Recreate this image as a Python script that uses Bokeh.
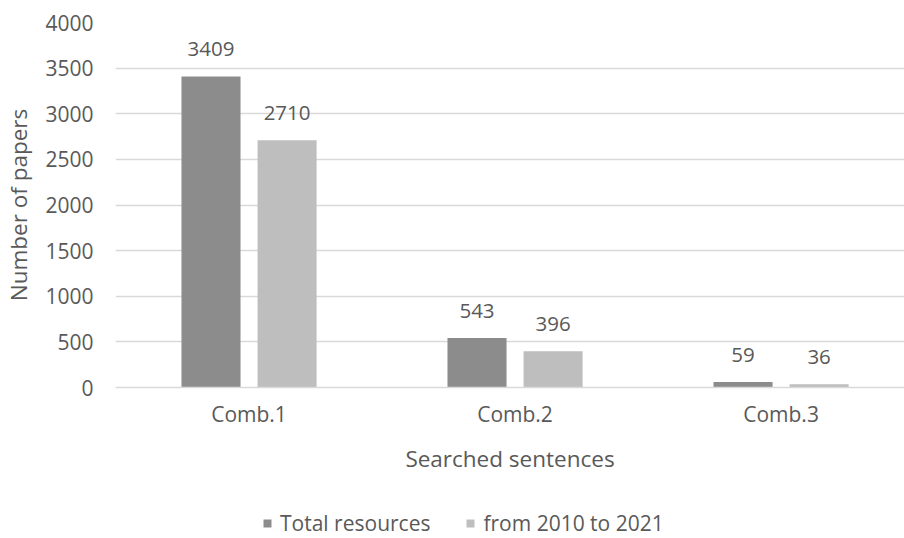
import numpy as np
from bokeh.plotting import figure
from bokeh.layouts import column
from bokeh.models import ColumnDataSource, Range1d, FixedTicker, Legend, LegendItem
from bokeh.transform import dodge
from bokeh.embed import file_html
from bokeh.resources import INLINE
from bokeh.core.properties import value

categories = ["Comb.1", "Comb.2", "Comb.3"]
total_resources = [3409, 543, 59]
from_2010_to_2021 = [2710, 396, 36]
y_ticks = [0, 500, 1000, 1500, 2000, 2500, 3000, 3500, 4000]
series_names = ["Total resources", "from 2010 to 2021"]
series_colors = ["#8c8c8c", "#bebebe"]

FONT = "Open Sans"
TXT = "#595959"

x_pos = list(range(len(categories)))
src = ColumnDataSource(dict(
    x=x_pos,
    total=total_resources,
    recent=from_2010_to_2021,
    total_lbl=[str(v) for v in total_resources],
    recent_lbl=[str(v) for v in from_2010_to_2021],
))

p = figure(width=904, height=490, output_backend="svg", toolbar_location=None,
           x_range=Range1d(-0.502, 2.464), y_range=Range1d(0, 4000),
           min_border_top=22, min_border_right=0, min_border_left=115,
           min_border_bottom=103)
p.outline_line_color = None
p.background_fill_color = "white"
p.border_fill_color = "white"

off = 0.143
w = 0.222
r1 = p.vbar(x=dodge("x", -off), top="total", width=w, source=src,
            fill_color=series_colors[0], line_color=None)
r2 = p.vbar(x=dodge("x", off), top="recent", width=w, source=src,
            fill_color=series_colors[1], line_color=None)

for col, lbl, dx in (("total", "total_lbl", -off), ("recent", "recent_lbl", off)):
    p.text(x=dodge("x", dx), y=col, text=lbl, source=src,
           text_align="center", text_baseline="alphabetic", y_offset=-27,
           text_font=value(FONT), text_font_size="20.5px", text_color=TXT)

p.xgrid.grid_line_color = None
p.ygrid.grid_line_color = "#d9d9d9"
p.ygrid.grid_line_width = 1.5
p.yaxis.ticker = FixedTicker(ticks=y_ticks)
p.xaxis.ticker = FixedTicker(ticks=x_pos)
p.xaxis.major_label_overrides = {i: c for i, c in enumerate(categories)}

for ax in (p.xaxis[0], p.yaxis[0]):
    ax.major_tick_line_color = None
    ax.minor_tick_line_color = None
    ax.major_label_text_font = FONT
    ax.major_label_text_font_size = "21px"
    ax.major_label_text_color = TXT
    ax.axis_label_text_font = FONT
    ax.axis_label_text_font_size = "22.5px"
    ax.axis_label_text_font_style = "normal"
    ax.axis_label_text_color = TXT

p.yaxis.axis_line_color = None
p.xaxis.axis_line_color = "#d9d9d9"
p.xaxis.axis_line_width = 1.5
p.yaxis.axis_label = "Number of papers"
p.xaxis.axis_label = "Searched sentences"
p.yaxis.major_label_standoff = 16
p.yaxis.axis_label_standoff = 8
p.xaxis.major_label_standoff = 6
p.xaxis.axis_label_standoff = 12

# legend strip (frame is aligned with the main plot's frame by the column layout)
lg = figure(width=904, height=48, output_backend="svg", toolbar_location=None,
            x_range=Range1d(0, 1), y_range=Range1d(0, 1),
            x_axis_location=None, y_axis_location=None,
            min_border_top=0, min_border_right=0, min_border_left=0,
            min_border_bottom=0)
lg.grid.grid_line_color = None
lg.outline_line_color = None
lg.border_fill_color = "white"
dummy_src = ColumnDataSource(dict(x=[-5], top=[0]))
d1 = lg.vbar(x="x", top="top", width=0.1, source=dummy_src,
             fill_color=series_colors[0], line_color=None)
d2 = lg.vbar(x="x", top="top", width=0.1, source=dummy_src,
             fill_color=series_colors[1], line_color=None)
legend = Legend(items=[LegendItem(label=series_names[0], renderers=[d1]),
                       LegendItem(label=series_names[1], renderers=[d2])],
                orientation="horizontal", location=(147, 1),
                border_line_color=None, background_fill_alpha=0,
                label_text_font=FONT, label_text_font_size="21px", label_text_color=TXT,
                glyph_width=10, glyph_height=10, label_standoff=8, spacing=35,
                padding=0, margin=0)
lg.add_layout(legend, "center")

layout = column(p, lg, spacing=0)
open("out.html", "w").write(file_html(layout, INLINE))
